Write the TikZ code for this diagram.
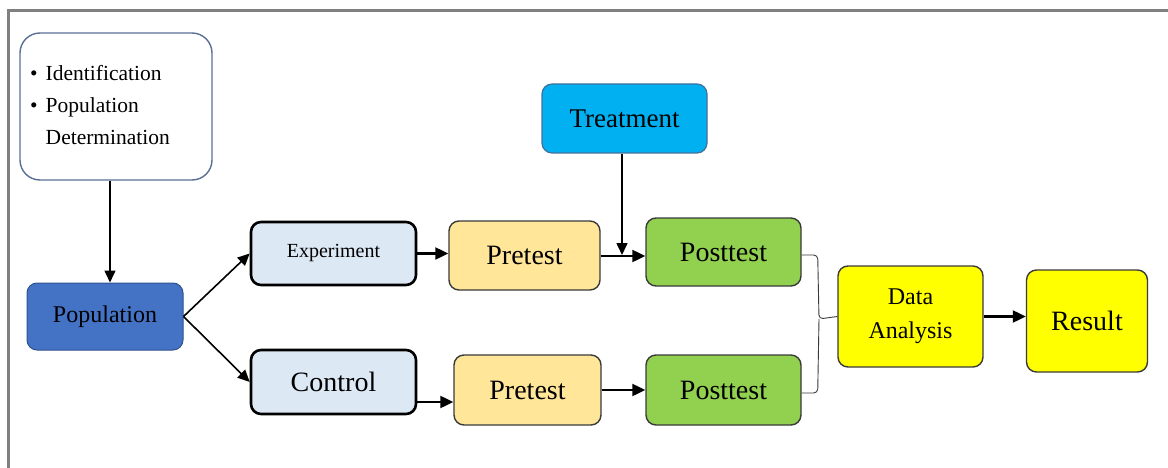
\documentclass[tikz,border=0pt]{standalone}
\usepackage{fontspec}
\setmainfont{LiberationSerif}[Extension=.ttf, UprightFont=*-Regular, BoldFont=*-Bold, ItalicFont=*-Italic]
\usetikzlibrary{arrows.meta}
\definecolor{popblue}{HTML}{4472C4}
\definecolor{popborder}{HTML}{2F528F}
\definecolor{lightblue}{HTML}{DDE8F5}
\definecolor{pretestfill}{HTML}{FFE699}
\definecolor{postfill}{HTML}{92D050}
\definecolor{treatfill}{HTML}{00B0F0}
\definecolor{treatborder}{HTML}{41719C}
\definecolor{boxborder}{HTML}{5B6F96}
\definecolor{darkline}{HTML}{3A3A3A}
\definecolor{framegray}{HTML}{808080}
\definecolor{pureyellow}{HTML}{FFFF00}
\tikzset{
  base/.style={rounded corners=10pt, inner sep=0pt, align=center, text=black},
  infobox/.style={base, rounded corners=20pt, draw=boxborder, line width=1.4pt, fill=white},
  popbox/.style={base, draw=popborder, line width=1pt, fill=popblue},
  groupbox/.style={base, draw=black, line width=2.6pt, fill=lightblue},
  prebox/.style={base, draw=darkline, line width=1.4pt, fill=pretestfill},
  postbox/.style={base, draw=darkline, line width=1.4pt, fill=postfill},
  treatbox/.style={base, draw=treatborder, line width=1.2pt, fill=treatfill},
  yelbox/.style={base, draw=darkline, line width=1.4pt, fill=pureyellow},
  arr/.style={line width=2.2pt, -{Triangle[length=13pt,width=12pt]}},
  thinarr/.style={line width=1.6pt, -{Triangle[length=12pt,width=11pt]}},
  bracket/.style={line width=0.9pt, draw=darkline, rounded corners=4pt},
}
\begin{document}
\begin{tikzpicture}[x=1pt,y=-1pt]
\useasboundingbox (0,0) rectangle (1168,468);
% frame
\draw[framegray, line width=3pt] (8,468) -- (8,11) -- (1168,11);

\node[infobox, minimum width=192pt, minimum height=147pt] (info) at (116,106.5) {};
\node[anchor=west, font=\fontsize{21.5}{31}\selectfont, align=left, inner sep=0pt] (infotext) at (30,105)
  {\textbullet\hspace{8pt}Identification\\[1pt]
   \textbullet\hspace{8pt}Population\\[1pt]
   \hphantom{\textbullet\hspace{8pt}}Determination};

\node[popbox, minimum width=156pt, minimum height=67pt, font=\fontsize{24}{26}\selectfont] (pop) at (105,316.5) {Population};

\node[groupbox, minimum width=165pt, minimum height=63pt, font=\fontsize{20}{22}\selectfont] (exp) at (333.5,253.5) {Experiment};
\node[groupbox, minimum width=165pt, minimum height=64pt, font=\fontsize{28}{30}\selectfont] (ctrl) at (333.5,382) {Control};

\node[prebox, minimum width=151pt, minimum height=69pt, font=\fontsize{28}{30}\selectfont] (pre1) at (524.5,255.5) {Pretest};
\node[prebox, minimum width=147pt, minimum height=70pt, font=\fontsize{28}{30}\selectfont] (pre2) at (527.5,390) {Pretest};

\node[postbox, minimum width=155pt, minimum height=68pt, font=\fontsize{28}{30}\selectfont] (post1) at (723.5,252) {Posttest};
\node[postbox, minimum width=155pt, minimum height=70pt, font=\fontsize{28}{30}\selectfont] (post2) at (723.5,390) {Posttest};

\node[treatbox, minimum width=165pt, minimum height=69pt, font=\fontsize{27}{30}\selectfont] (treat) at (624.5,118.5) {Treatment};

\node[yelbox, minimum width=145pt, minimum height=101pt, font=\fontsize{24}{34}\selectfont] (da) at (910.5,316.5) {Data\\Analysis};
\node[yelbox, minimum width=121pt, minimum height=102pt, font=\fontsize{28}{30}\selectfont] (res) at (1087,321) {Result};

% connectors
\draw[thinarr] (info.south -| 110,0) -- (pop.north -| 110,0);
\draw[thinarr] (pop.east) -- (exp.west);
\draw[thinarr] (pop.east) -- (ctrl.west);
\draw[arr] (exp.east) -- (pre1.west |- exp.east);
\draw[arr] (ctrl.east |- pre2.east) ++(0,12) coordinate (c1) -- (pre2.west |- c1);
\draw[arr] (pre1.east |- post1.east) ++(0,4) coordinate (p1) -- (post1.west |- p1);
\coordinate (tj) at (622,255);
\draw[thinarr] (treat.south -| tj) -- (tj);
\draw[arr] (pre2.east) -- (post2.west);
\draw[arr] (da.east) -- (res.west |- da.east);

% bracket
\coordinate (bm) at (819,319);
\draw[bracket] (post1.east) ++(0,3) -- ++(16,0) -- (bm) -- (da.west);
\draw[bracket] (post2.east) ++(0,3) -- ++(16,0) -- (bm);
\end{tikzpicture}
\end{document}
